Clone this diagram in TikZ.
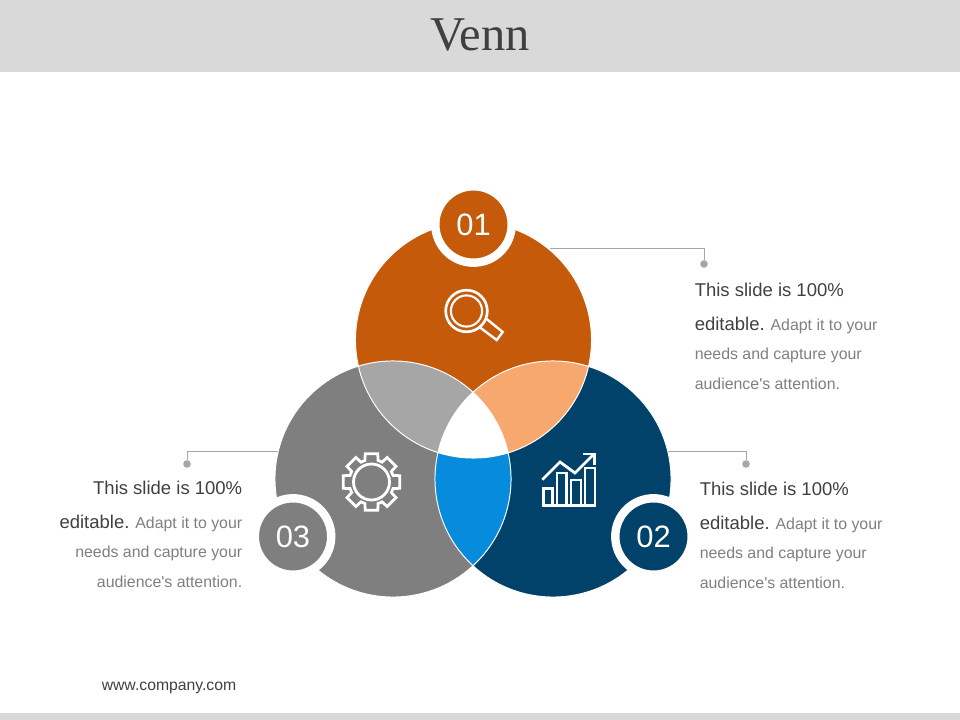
\documentclass[tikz,border=0pt]{standalone}
\usepackage{fontspec}
\setmainfont{Liberation Sans}
\newfontfamily\titlefont{Liberation Serif}
\newfontfamily\bodyfont{Liberation Sans}
\usetikzlibrary{positioning}

\definecolor{vorange}{HTML}{C55A0B}
\definecolor{vgray}{HTML}{7F7F7F}
\definecolor{vnavy}{HTML}{004269}
\definecolor{vlightgray}{HTML}{A6A6A6}
\definecolor{vpeach}{HTML}{F7A86E}
\definecolor{vblue}{HTML}{078BDC}
\definecolor{vband}{HTML}{D9D9D9}
\definecolor{vdark}{HTML}{404040}
\definecolor{vrule}{HTML}{A6A6A6}

\newcommand{\vrad}{2.95cm}
\newcommand{\leadin}{\bodyfont\fontsize{13.15}{21}\selectfont\color{vdark}}
\newcommand{\restin}{\bodyfont\fontsize{11.3}{21}\selectfont\color{vgray}}
\newcommand{\blurb}{{\leadin This slide is 100\%}\\[3.2pt]
 {\leadin editable.} {\restin Adapt it to your}\\
 {\restin needs and capture your}\\
 {\restin audience's attention.}}

\tikzset{
 badge/.style={circle,draw=white,line width=0.21cm,minimum size=1.91cm,inner sep=0pt,
  text=white,font=\fontsize{22}{22}\selectfont},
 blurbtext/.style={inner sep=0pt,font=\fontsize{11.3}{21}\selectfont},
 pin/.style={circle,fill=vrule,minimum size=0.19cm,inner sep=0pt},
 leader/.style={draw=vrule,line width=0.5pt},
 icon/.style={draw=white,line width=2pt},
}

\begin{document}
\begin{tikzpicture}[x=0.025cm,y=-0.025cm]
\useasboundingbox (0,0) rectangle (960,720);
\fill[vband] (0,0) rectangle (960,72.5);
\fill[vband] (0,713) rectangle (960,720);
\node (title) at (480,35)[text=vdark,font=\titlefont\fontsize{34.5}{34.5}\selectfont]{Venn};
\node (site) at (169,688)[text=vdark,font=\fontsize{11.2}{14}\selectfont]{www.company.com};

\coordinate (topc) at (473.5,340);
\coordinate (leftc) at (393,479);
\coordinate (rightc) at (553,479);

% leaders sit under the circles
\node (pintop) at (704,264)[pin]{};
\node (pinright) at (746,464)[pin]{};
\node (pinleft) at (187,464)[pin]{};
\coordinate (endtop) at (550,248);
\coordinate (endright) at (660,451);
\coordinate (endleft) at (285,451);
\draw[leader] (pintop) |- (endtop);
\draw[leader] (pinright) |- (endright);
\draw[leader] (pinleft) |- (endleft);

\fill[vgray] (leftc) circle[radius=\vrad];
\fill[vnavy] (rightc) circle[radius=\vrad];
\fill[vorange] (topc) circle[radius=\vrad];

\begin{scope}
\clip (topc) circle[radius=\vrad];
\fill[vlightgray] (leftc) circle[radius=\vrad];
\fill[vpeach] (rightc) circle[radius=\vrad];
\end{scope}
\begin{scope}
\clip (leftc) circle[radius=\vrad];
\fill[vblue] (rightc) circle[radius=\vrad];
\clip (rightc) circle[radius=\vrad];
\fill[white] (topc) circle[radius=\vrad];
\end{scope}

\foreach \c in {topc,leftc,rightc}
 \draw[white,line width=0.7pt] (\c) circle[radius=\vrad];

\node (one) at (473.5,224.5)[badge,fill=vorange]{01};
\node (two) at (653.5,536.5)[badge,fill=vnavy]{02};
\node (three) at (293,536.5)[badge,fill=vgray]{03};

% magnifier
\draw[icon,line width=1.9pt] (466.5,311) circle[radius=0.52cm];
\draw[icon,line width=1.5pt] (466.5,311) circle[radius=0.39cm];
\draw[icon,line width=1.7pt,line join=miter] (478.7,326.5) -- (496.7,340) -- (502.7,332) -- (486,318.5);

% gear
\begin{scope}[shift={(371.5,482)}]
\draw[icon,line join=miter] (-17:22.5)
 \foreach \a in {0,45,...,315} {
  -- (\a-17:22.5) -- (\a-12.5:29) -- (\a+12.5:29) -- (\a+17:22.5)
 } -- cycle;
\draw[icon] (0,0) circle[radius=0.45cm];
\end{scope}

% chart
\draw[icon] (543.3,505.7) -- (543.3,488.5) -- (552.3,488.5) -- (552.3,505.7);
\draw[icon] (557,505.7) -- (557,473) -- (566.7,473) -- (566.7,505.7);
\draw[icon] (571,505.7) -- (571,480) -- (581,480) -- (581,505.7);
\draw[icon] (585,505.7) -- (585,468) -- (595,468) -- (595,505.7) -- cycle;
\draw[icon] (541.5,505.7) -- (596,505.7);
\draw[icon] (542.3,479.7) -- (560,462) -- (575,473) -- (593.3,454.7);
\draw[icon] (583.3,454) -- (594.3,454) -- (594.3,464.7);

\node (infotop) at (694.5,282.5)[blurbtext,anchor=north west,align=left]{\blurb};
\node (inforight) at (699.5,481.5)[blurbtext,anchor=north west,align=left]{\blurb};
\node (infoleft) at (242.5,480.5)[blurbtext,anchor=north east,align=right]{\blurb};
\end{tikzpicture}
\end{document}
